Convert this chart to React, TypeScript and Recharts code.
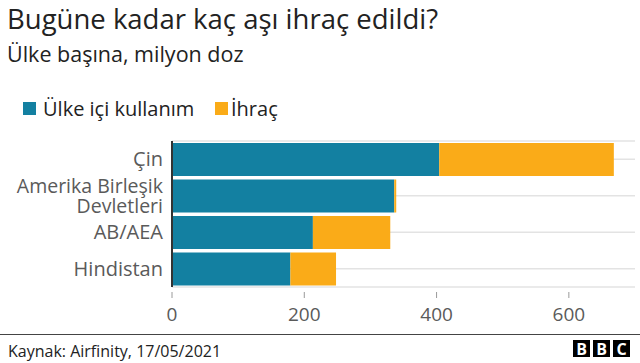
import React from "react";
import { BarChart, Bar, XAxis, YAxis, CartesianGrid } from "recharts";

const categories = ["Çin", "Amerika Birleşik Devletleri", "AB/AEA", "Hindistan"];
const domestic = [404, 336, 213, 179];
const exported = [264, 3, 117, 69];
const xTicks = [0, 200, 400, 600];
const seriesNames = ["Ülke içi kullanım", "İhraç"];
const seriesColors = ["#1380A1", "#FAAB18"];
const titleText = "Bugüne kadar kaç aşı ihraç edildi?";
const subtitleText = "Ülke başına, milyon doz";
const sourceText = "Kaynak: Airfinity, 17/05/2021";

const labelLines: Record<string, string[]> = {
  "Amerika Birleşik Devletleri": ["Amerika Birleşik", "Devletleri"],
};

const data = categories.map((name, i) => ({
  name,
  domestic: domestic[i],
  exported: exported[i],
}));

const FONT = "'Open Sans', 'Noto Sans', sans-serif";

const YTick = (props: any) => {
  const { x, y, payload } = props;
  const lines = labelLines[payload.value] || [payload.value];
  if (lines.length === 1) {
    return (
      <text x={x} y={y + 7} textAnchor="end" fill="#5a5a5a" fontSize={20} fontFamily={FONT}>
        {lines[0]}
      </text>
    );
  }
  return (
    <g>
      <text x={x} y={y - 3} textAnchor="end" fill="#5a5a5a" fontSize={19.5} fontFamily={FONT}>
        {lines[0]}
      </text>
      <text x={x} y={y + 17} textAnchor="end" fill="#5a5a5a" fontSize={19.5} fontFamily={FONT}>
        {lines[1]}
      </text>
    </g>
  );
};

const XTick = (props: any) => {
  const { x, y, payload } = props;
  return (
    <g>
      <line x1={x} x2={x} y1={y + 5} y2={y + 11} stroke="#9a9a9a" strokeWidth={1} />
      <text x={x} y={y + 34} textAnchor="middle" fill="#5a5a5a" fontSize={19} fontFamily={FONT}>
        {payload.value}
      </text>
    </g>
  );
};

export default function App() {
  return (
    <div
      style={{
        position: "absolute",
        left: 0,
        top: 0,
        width: 640,
        height: 363,
        background: "#fff",
        overflow: "hidden",
      }}
    >
      <div style={{ position: "absolute", left: 0, top: 0 }}>
        <BarChart
          width={640}
          height={363}
          data={data}
          layout="vertical"
          margin={{ top: 141, right: 5, bottom: 36, left: 0 }}
          barSize={33}
        >
          <CartesianGrid vertical={false} stroke="#e3e3e3" strokeWidth={1.5} />
          <XAxis
            type="number"
            domain={[0, 700]}
            ticks={xTicks}
            axisLine={false}
            tickLine={false}
            tickSize={0}
            tickMargin={0}
            height={40}
            tick={<XTick />}
            interval={0}
          />
          <YAxis
            type="category"
            dataKey="name"
            width={172}
            axisLine={{ stroke: "#333", strokeWidth: 2 }}
            tickLine={false}
            tickSize={0}
            tickMargin={9}
            tick={<YTick />}
            interval={0}
          />
          <Bar dataKey="domestic" stackId="a" fill={seriesColors[0]} isAnimationActive={false} />
          <Bar dataKey="exported" stackId="a" fill={seriesColors[1]} isAnimationActive={false} />
        </BarChart>
      </div>
      <svg
        width={640}
        height={363}
        style={{ position: "absolute", left: 0, top: 0, pointerEvents: "none" }}
      >
        <text x={7} y={29} fontSize={27.5} fill="#222" fontFamily={FONT}>
          {titleText}
        </text>
        <text x={7} y={62} fontSize={21.5} fill="#222" fontFamily={FONT}>
          {subtitleText}
        </text>
        <rect x={23} y={102} width={13} height={13} fill={seriesColors[0]} />
        <text x={43} y={116} fontSize={20} fill="#222" fontFamily={FONT}>
          {seriesNames[0]}
        </text>
        <rect x={215} y={102} width={13} height={13} fill={seriesColors[1]} />
        <text x={231} y={116} fontSize={20} fill="#222" fontFamily={FONT}>
          {seriesNames[1]}
        </text>
        <line x1={0} x2={640} y1={334.5} y2={334.5} stroke="#444" strokeWidth={1} />
        <text x={8} y={357} fontSize={16} fill="#222" fontFamily={FONT}>
          {sourceText}
        </text>
        {["B", "B", "C"].map((ch, i) => (
          <g key={i}>
            <rect x={573} y={340} width={17} height={17} fill="#000" transform={`translate(${i * 20},0)`} />
            <text
              x={581.5 + i * 20}
              y={354.5}
              textAnchor="middle"
              fontSize={16}
              fontWeight="bold"
              fill="#fff"
              fontFamily={FONT}
            >
              {ch}
            </text>
          </g>
        ))}
      </svg>
    </div>
  );
}
